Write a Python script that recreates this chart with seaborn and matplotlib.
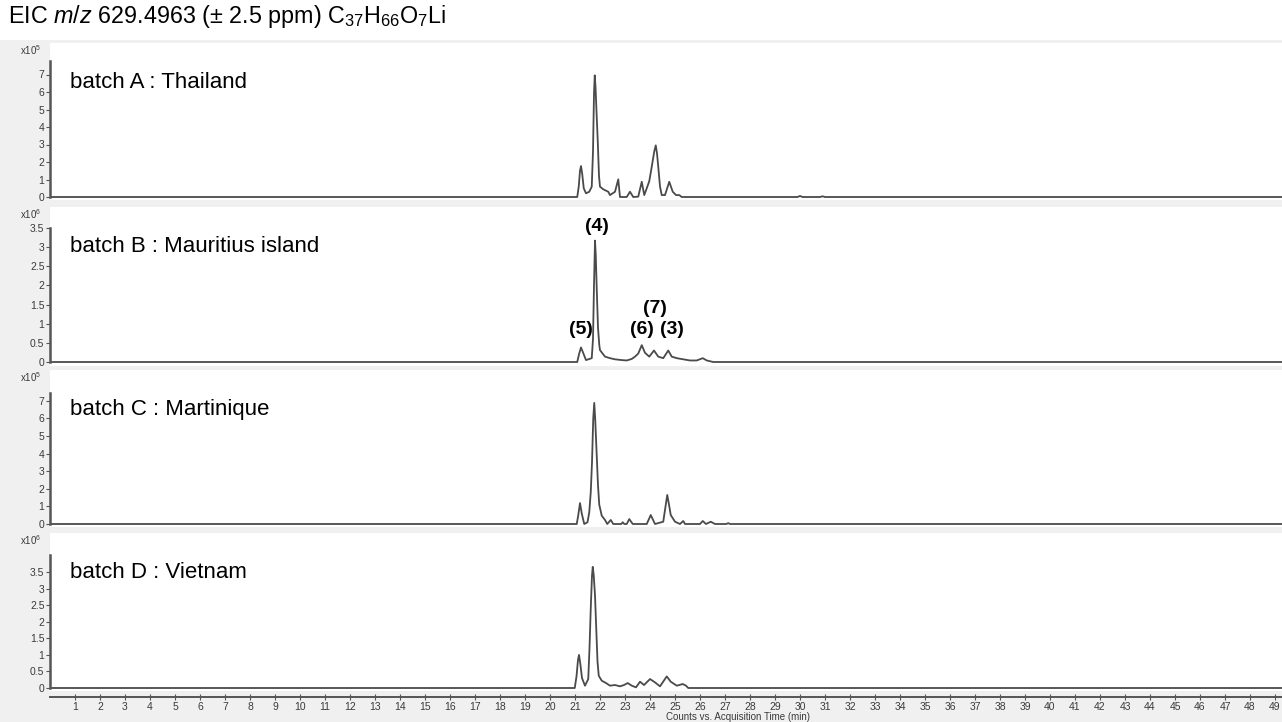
# EIC chromatograms of four batches, one panel per batch, shared time axis.

import numpy as np
import pandas as pd
import seaborn as sns
import matplotlib.pyplot as plt

# Traces: time (min) and intensity (in panel units)
time_a = [0, 21.09, 21.15, 21.2, 21.24, 21.29, 21.35, 21.44, 21.57, 21.67, 21.72, 21.76, 21.79,
          21.82, 21.86, 21.91, 21.96, 22.0, 22.13, 22.33, 22.4, 22.6, 22.73, 22.8, 23.07, 23.2,
          23.33, 23.53, 23.67, 23.77, 23.87, 23.97, 24.07, 24.17, 24.23, 24.28, 24.33, 24.4,
          24.47, 24.6, 24.77, 24.91, 25.04, 25.17, 25.27, 29.9, 30.0, 30.1, 30.8, 30.9, 31.0, 49.5]
int_a = [0, 0, 0.6, 1.5, 1.77, 1.3, 0.5, 0.21, 0.3, 0.59, 2.6, 5.9, 6.95,
         6.3, 4.9, 3.2, 1.2, 0.59, 0.44, 0.3, 0.11, 0.3, 1.01, 0, 0, 0.3,
         0, 0.02, 0.87, 0.11, 0.5, 0.9, 1.73, 2.6, 2.95, 2.5, 1.73, 0.6,
         0.11, 0.11, 0.87, 0.3, 0.11, 0.11, 0, 0, 0.06, 0, 0, 0.04, 0, 0]

time_b = [0, 21.09, 21.16, 21.24, 21.32, 21.44, 21.67, 21.72, 21.76, 21.8, 21.83, 21.87, 21.92,
          21.97, 22.0, 22.2, 22.4, 22.6, 22.87, 23.07, 23.27, 23.4, 23.53, 23.67, 23.8, 23.97,
          24.16, 24.33, 24.53, 24.73, 24.87, 25.07, 25.33, 25.6, 25.87, 26.11, 26.27, 26.53, 49.5]
int_b = [0, 0, 0.2, 0.38, 0.25, 0.05, 0.1, 0.6, 2.0, 3.17, 2.8, 1.9, 0.9,
         0.45, 0.31, 0.14, 0.1, 0.07, 0.05, 0.04, 0.08, 0.14, 0.22, 0.44, 0.24, 0.14,
         0.3, 0.14, 0.1, 0.3, 0.14, 0.1, 0.07, 0.04, 0.04, 0.1, 0.04, 0, 0]

time_c = [0, 21.07, 21.13, 21.2, 21.27, 21.37, 21.5, 21.57, 21.63, 21.68, 21.73, 21.77, 21.81,
          21.86, 21.92, 21.97, 22.07, 22.2, 22.29, 22.43, 22.53, 22.85, 22.91, 22.97, 23.07,
          23.17, 23.31, 23.87, 24.03, 24.2, 24.53, 24.6, 24.69, 24.76, 24.83, 25.0, 25.2, 25.33,
          25.4, 26.0, 26.11, 26.24, 26.43, 26.6, 27.05, 27.13, 27.2, 49.5]
int_c = [0, 0, 0.5, 1.19, 0.6, 0, 0.1, 0.66, 1.8, 3.5, 6.0, 6.88, 5.9,
         4.2, 2.2, 1.1, 0.47, 0.23, 0, 0.23, 0, 0, 0.1, 0, 0,
         0.28, 0, 0, 0.51, 0, 0.13, 0.8, 1.65, 1.1, 0.51, 0.13, 0, 0.17,
         0, 0, 0.17, 0, 0.13, 0, 0, 0.05, 0, 0]

time_d = [0, 20.99, 21.06, 21.12, 21.16, 21.21, 21.28, 21.4, 21.53, 21.58, 21.63, 21.68, 21.71,
          21.75, 21.8, 21.85, 21.9, 21.95, 22.07, 22.24, 22.4, 22.6, 22.8, 22.96, 23.11, 23.27,
          23.44, 23.6, 23.76, 24.0, 24.2, 24.4, 24.67, 24.83, 25.07, 25.31, 25.44, 25.53, 49.5]
int_d = [0, 0, 0.35, 0.85, 1.0, 0.75, 0.3, 0.07, 0.27, 1.2, 2.4, 3.4, 3.66,
         3.4, 2.8, 1.8, 0.8, 0.37, 0.22, 0.15, 0.07, 0.09, 0.05, 0.09, 0.15, 0.07,
         0.02, 0.19, 0.09, 0.27, 0.17, 0.05, 0.35, 0.19, 0.07, 0.12, 0.07, 0, 0]

batch_labels = ["batch A : Thailand", "batch B : Mauritius island",
                "batch C : Martinique", "batch D : Vietnam"]
exponents = ["5", "6", "5", "6"]
ytick_max = [7, 3.5, 7, 3.5]

# compound labels on batch B
peak_names = ["(4)", "(5)", "(6)", "(7)", "(3)"]
peak_times = [21.87, 21.23, 23.67, 24.2, 24.87]
peak_heights = [3.55, 0.84, 0.84, 1.40, 0.84]

sns.set_theme(style="white")
plt.rcParams["font.family"] = ["Liberation Sans", "DejaVu Sans"]
plt.rcParams["mathtext.fontset"] = "custom"
plt.rcParams["mathtext.rm"] = "Liberation Sans"
plt.rcParams["mathtext.it"] = "Liberation Sans:italic"
plt.rcParams["text.color"] = "black"

W, H = 1282, 722
fig = plt.figure(figsize=(W / 100, H / 100), dpi=100, facecolor="white")
# grey frame below the title
fig.patches.append(plt.Rectangle((0, 0), 1, 1 - 40 / H, transform=fig.transFigure,
                                 facecolor="#f0f0f0", edgecolor="none", zorder=-10))

traces = [(time_a, int_a), (time_b, int_b), (time_c, int_c), (time_d, int_d)]
# pixel layout per panel: white top, white bottom, zero line, px per unit, spine top, tick step
layout = [(43, 200, 197, 17.5, 7.8, 1), (207, 366, 362, 38.3, 3.5, 0.5),
          (370, 527, 524, 17.6, 7.45, 1), (533, 691, 688, 33.1, 4.03, 0.5)]

x_left = 50
xmax = (W - x_left) / 25.0
axes = []
for i, ((t, v), (top, bot, y0, s, ytop, step)) in enumerate(zip(traces, layout)):
    ax = fig.add_axes([x_left / W, 1 - bot / H, (W - x_left) / W, (bot - top) / H])
    ax.set_zorder(2)
    ax.set_facecolor("white")
    df = pd.DataFrame({"time": t, "counts": v})
    sns.lineplot(data=df, x="time", y="counts", ax=ax, color="#4a4a4a", lw=1.3,
                 estimator=None, sort=False)
    ax.set_xlim(0, xmax)
    ax.set_ylim(-(bot - y0) / s, (y0 - top) / s)
    ax.set_xlabel("")
    ax.set_ylabel("")
    for side in ["top", "right"]:
        ax.spines[side].set_visible(False)
    ax.spines["left"].set_bounds(0, ytop)
    ax.spines["left"].set_color("#555555")
    ax.spines["left"].set_linewidth(1.8)
    yt = np.arange(0, ytick_max[i] + 1e-6, step)
    ax.set_yticks(yt)
    ax.set_yticklabels([f"{y:g}" for y in yt])
    ax.tick_params(axis="y", left=True, length=3, width=0.8, color="#555555",
                   labelsize=7.5, labelcolor="#3a3a3a", pad=1)
    ax.text(20 / (W - x_left), (y0 - (top + 40)) / s, batch_labels[i],
            transform=ax.get_yaxis_transform(), fontsize=16, va="center", ha="left")
    fig.text(31 / W, 1 - (top + 7) / H, "x10$^{" + exponents[i] + "}$", fontsize=7,
             ha="center", va="center", color="#3a3a3a", zorder=3)
    if i < 3:
        ax.spines["bottom"].set_visible(False)
        ax.set_xticks([])
    axes.append(ax)

# batch B peak labels
for name, pt, ph in zip(peak_names, peak_times, peak_heights):
    axes[1].text(pt, ph, name, fontsize=14, fontweight="bold", ha="center", va="center")

# shared time axis under batch D
axd = axes[3]
axd.spines["bottom"].set_position(("outward", 4.3))
axd.spines["bottom"].set_color("#555555")
axd.spines["bottom"].set_linewidth(1.4)
axd.set_xticks(range(1, 50))
axd.tick_params(axis="x", bottom=True, direction="inout", length=5, width=0.8,
                color="#555555", labelsize=7.5, labelcolor="#3a3a3a", pad=1)

fig.text(738 / W, 1 - 717 / H, "Counts vs. Acquisition Time (min)", fontsize=7,
         ha="center", va="center", color="#3a3a3a")
fig.text(8 / W, 1 - 17 / H,
         r"EIC $\mathit{m/z}$ 629.4963 (± 2.5 ppm) C$_{37}$H$_{66}$O$_{7}$Li",
         fontsize=16.8, ha="left", va="center")

fig.savefig("out.png", dpi=100, facecolor=fig.get_facecolor())
